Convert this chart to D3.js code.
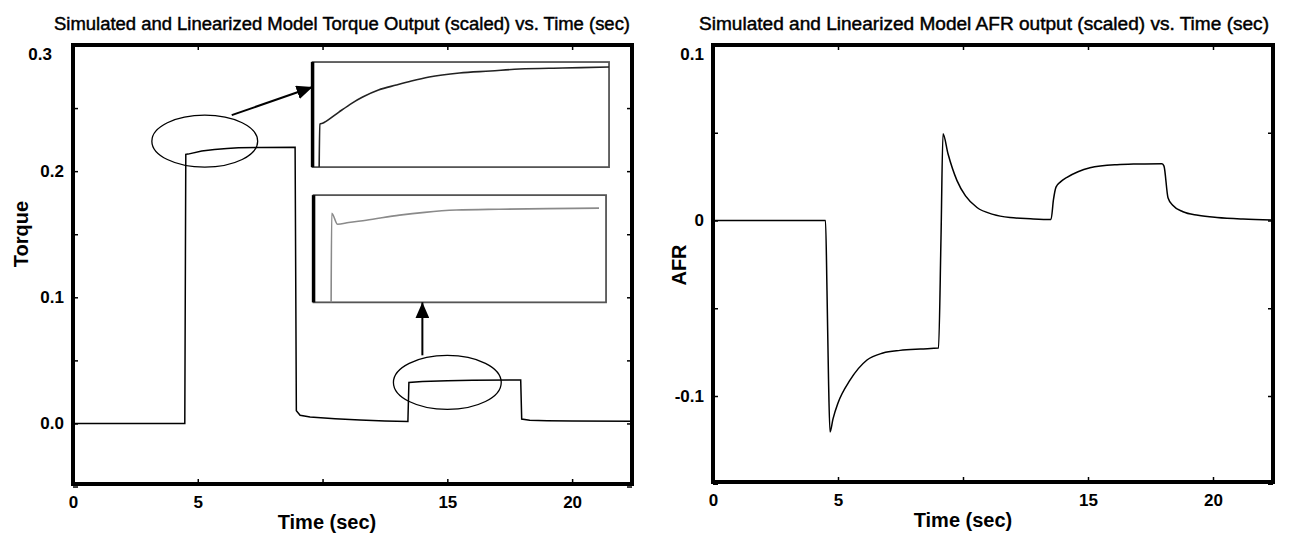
<!DOCTYPE html>
<html>
<head>
<meta charset="utf-8">
<script src="https://cdnjs.cloudflare.com/ajax/libs/d3/7.8.5/d3.min.js"></script>
<style>
  body { margin: 0; background: #fff; }
  svg text { font-family: "Liberation Sans", Arial, sans-serif; fill: #000; }
  .tick text { font-size: 17px; font-weight: bold; }
  .tick line { stroke: #000; stroke-width: 1.5; }
  .title { font-size: 18px; stroke: #000; stroke-width: 0.45; }
  .axis-title { font-size: 20px; font-weight: bold; }
  .line { fill: none; stroke: #000; stroke-width: 1.5; }
  .note { fill: none; stroke: #000; stroke-width: 1.3; }
</style>
</head>
<body>
<script>
//==============================================================================
// DATA
//==============================================================================

// torque (scaled), main plot
const torqueTime  = [0, 4.48, 4.52, 4.61, 5.16, 5.67, 6.17, 6.63, 7.54, 8.9, 8.95, 9.1, 9.5, 10.5, 11.5, 12.5, 13.42, 13.46, 14.0, 15.0, 16.0, 17.94, 17.98, 18.3, 19.0, 20.0, 22.4];
const torqueValue = [0, 0, 0.2133, 0.2135, 0.216, 0.2172, 0.218, 0.2185, 0.2188, 0.219, 0.010, 0.0065, 0.0052, 0.0038, 0.0027, 0.002, 0.0016, 0.0325, 0.0332, 0.0338, 0.0342, 0.0345, 0.0035, 0.0026, 0.0022, 0.0019, 0.0017];

// zoomed views shown in the two insets
const insetATime  = [4.50, 4.51, 4.56, 4.61, 4.8, 5.0, 5.16, 5.4, 5.67, 5.9, 6.17, 6.63, 7.1, 7.54, 8.2, 8.9];
const insetAValue = [0, 0.2133, 0.2134, 0.2136, 0.2145, 0.2154, 0.216, 0.2167, 0.2172, 0.2176, 0.218, 0.2184, 0.2186, 0.2188, 0.2189, 0.219];
const insetBTime  = [13.40, 13.41, 13.51, 13.7, 14.0, 14.57, 15.0, 15.54, 16.27, 17.1, 17.98];
const insetBValue = [0, 0.0316, 0.0277, 0.0283, 0.0291, 0.0309, 0.0319, 0.0327, 0.0330, 0.0332, 0.0334];

// AFR (scaled)
const afrTime  = [0, 4.5, 4.56, 4.62, 4.68, 4.8, 5.0, 5.48, 6.16, 6.8, 7.48, 8.3, 9.02, 9.12, 9.2, 9.4, 9.76, 10.1, 10.56, 11.2, 11.88, 12.7, 13.52, 13.62, 13.72, 13.9, 14.16, 14.6, 15.08, 16.16, 17.0, 17.96, 18.04, 18.2, 18.4, 18.8, 19.4, 20.16, 21.2, 22.4];
const afrValue = [0, 0, -0.04, -0.09, -0.1205, -0.113, -0.104, -0.091, -0.0795, -0.0755, -0.074, -0.0732, -0.0727, -0.01, 0.0494, 0.038, 0.0227, 0.014, 0.0074, 0.0035, 0.0017, 0.001, 0.0006, 0.012, 0.019, 0.022, 0.0246, 0.0278, 0.030, 0.0318, 0.0322, 0.0324, 0.031, 0.013, 0.0085, 0.005, 0.003, 0.0017, 0.0008, 0.0003];

// ticks
const xTicks = [0, 5, 10, 15, 20];
const xTickLabels = ['0', '5', '', '15', '20'];
const torqueTicks = [-0.05, 0, 0.05, 0.1, 0.15, 0.2, 0.25, 0.3];
const torqueTickLabels = ['', '0.0', '', '0.1', '', '0.2', '', '0.3'];
const afrTicks = [-0.15, -0.1, -0.05, 0, 0.05, 0.1];
const afrTickLabels = ['', '-0.1', '', '0', '', '0.1'];

//==============================================================================
// PARAMETERS
//==============================================================================

const svg = d3.select('body').append('svg')
  .attr('width', 1297)
  .attr('height', 533);

svg.append('defs').append('marker')
  .attr('id', 'head')
  .attr('markerUnits', 'userSpaceOnUse')
  .attr('viewBox', '0 0 16 14')
  .attr('refX', 16).attr('refY', 7)
  .attr('markerWidth', 16).attr('markerHeight', 14)
  .attr('orient', 'auto')
  .append('path')
  .attr('d', 'M0,0 L16,7 L0,14 Z')
  .attr('fill', '#000');

const panels = [
  {
    left: 73, top: 45, right: 632, bottom: 484,
    yDomain: [-0.048, 0.3], yTicks: torqueTicks, yLabels: torqueTickLabels, topShift: [-12, 9],
    time: torqueTime, value: torqueValue, curve: d3.curveLinear,
    title: 'Simulated and Linearized Model Torque Output (scaled) vs. Time (sec)',
    titleX: 342, titleLen: 576, yTitle: 'Torque', yTitleX: 28, yTitleY: 234, xTitleX: 327, xTitleY: 529
  },
  {
    left: 713, top: 45, right: 1273, bottom: 482,
    yDomain: [-0.149, 0.1], yTicks: afrTicks, yLabels: afrTickLabels, topShift: [0, 9],
    time: afrTime, value: afrValue, curve: d3.curveMonotoneX,
    title: 'Simulated and Linearized Model AFR output (scaled) vs. Time (sec)',
    titleX: 984, titleLen: 570, yTitle: 'AFR', yTitleX: 686, yTitleY: 265, xTitleX: 963, xTitleY: 527
  }
];

//==============================================================================
// DRAW
//==============================================================================

const scales = panels.map(p => {

  const x = d3.scaleLinear().domain([0, 22.4]).range([p.left, p.right]);
  const y = d3.scaleLinear().domain(p.yDomain).range([p.bottom, p.top]);
  const g = svg.append('g');

  // x axes (bottom with labels, top without)
  g.append('g')
    .attr('transform', `translate(0,${p.bottom})`)
    .call(d3.axisBottom(x).tickValues(xTicks).tickFormat((d, i) => xTickLabels[i])
      .tickSizeInner(-5).tickSizeOuter(0).tickPadding(12))
    .call(a => a.select('.domain').remove());
  g.append('g')
    .attr('transform', `translate(0,${p.top})`)
    .call(d3.axisTop(x).tickValues(xTicks).tickFormat('').tickSizeInner(-5).tickSizeOuter(0))
    .call(a => a.select('.domain').remove());

  // y axes
  g.append('g')
    .attr('transform', `translate(${p.left},0)`)
    .call(d3.axisLeft(y).tickValues(p.yTicks).tickFormat((d, i) => p.yLabels[i])
      .tickSizeInner(-5).tickSizeOuter(0).tickPadding(9))
    .call(a => a.select('.domain').remove())
    .call(a => a.selectAll('.tick text')
      .filter(d => d === p.yTicks[p.yTicks.length - 1])
      .attr('transform', `translate(${p.topShift[0]},${p.topShift[1]})`));
  g.append('g')
    .attr('transform', `translate(${p.right},0)`)
    .call(d3.axisRight(y).tickValues(p.yTicks).tickFormat('').tickSizeInner(-5).tickSizeOuter(0))
    .call(a => a.select('.domain').remove());

  // series
  const line = d3.line()
    .x(i => x(p.time[i]))
    .y(i => y(p.value[i]))
    .curve(p.curve);
  g.append('path')
    .attr('class', 'line')
    .attr('d', line(d3.range(p.time.length)));

  // box
  g.append('rect')
    .attr('x', p.left).attr('y', p.top)
    .attr('width', p.right - p.left).attr('height', p.bottom - p.top)
    .attr('fill', 'none')
    .attr('stroke', '#000')
    .attr('stroke-width', 4);

  // titles
  g.append('text')
    .attr('class', 'title')
    .attr('x', p.titleX).attr('y', 30)
    .attr('text-anchor', 'middle')
    .attr('textLength', p.titleLen)
    .attr('lengthAdjust', 'spacingAndGlyphs')
    .text(p.title);
  g.append('text')
    .attr('class', 'axis-title')
    .attr('transform', `translate(${p.yTitleX},${p.yTitleY}) rotate(-90)`)
    .attr('text-anchor', 'middle')
    .text(p.yTitle);
  g.append('text')
    .attr('class', 'axis-title')
    .attr('x', p.xTitleX).attr('y', p.xTitleY)
    .attr('text-anchor', 'middle')
    .text('Time (sec)');

  return { x, y, g };
});

//==============================================================================
// INSETS + ANNOTATIONS (left panel)
//==============================================================================

const { x, y, g } = scales[0];

const insets = [
  { t: [9.6, 21.48], v: [0.2032, 0.2865], xd: [4.4, 8.9], yd: [0.209, 0.2195],
    time: insetATime, value: insetAValue, color: '#222' },
  { t: [9.64, 21.36], v: [0.096, 0.181], xd: [13.1, 18.1], yd: [0, 0.038],
    time: insetBTime, value: insetBValue, color: '#8a8a8a' }
];

insets.forEach(ins => {
  const x0 = x(ins.t[0]), x1 = x(ins.t[1]);
  const y0 = y(ins.v[1]), y1 = y(ins.v[0]);
  const ix = d3.scaleLinear().domain(ins.xd).range([x0, x1]).clamp(true);
  const iy = d3.scaleLinear().domain(ins.yd).range([y1, y0]).clamp(true);

  g.append('rect')
    .attr('x', x0).attr('y', y0)
    .attr('width', x1 - x0).attr('height', y1 - y0)
    .attr('fill', '#fff')
    .attr('stroke', '#555')
    .attr('stroke-width', 1.8);
  g.append('line')
    .attr('x1', x0).attr('x2', x0).attr('y1', y0).attr('y2', y1)
    .attr('stroke', '#000').attr('stroke-width', 3.5);

  g.append('path')
    .attr('fill', 'none')
    .attr('stroke', ins.color)
    .attr('stroke-width', 1.6)
    .attr('d', d3.line()
      .x(i => ix(ins.time[i]))
      .y(i => iy(ins.value[i]))
      .curve(d3.curveMonotoneX)(d3.range(ins.time.length)));
});

// ellipses around zoomed regions
const ellipses = [
  { t: 5.28, v: 0.2238, rt: 2.12, rv: 0.0206 },
  { t: 15.0, v: 0.0325, rt: 2.16, rv: 0.0214 }
];
g.selectAll('ellipse.note')
  .data(ellipses)
  .enter()
  .append('ellipse')
  .attr('class', 'note')
  .attr('cx', d => x(d.t))
  .attr('cy', d => y(d.v))
  .attr('rx', d => x(d.rt) - x(0))
  .attr('ry', d => y(0) - y(d.rv));

// arrows
const arrows = [
  { t0: 6.36, v0: 0.2444, t1: 9.6, v1: 0.2667 },
  { t0: 14.0, v0: 0.054, t1: 14.0, v1: 0.096 }
];
g.selectAll('line.arrow')
  .data(arrows)
  .enter()
  .append('line')
  .attr('class', 'arrow')
  .attr('x1', d => x(d.t0)).attr('y1', d => y(d.v0))
  .attr('x2', d => x(d.t1)).attr('y2', d => y(d.v1))
  .attr('stroke', '#000')
  .attr('stroke-width', 2)
  .attr('marker-end', 'url(#head)');
</script>
</body>
</html>
